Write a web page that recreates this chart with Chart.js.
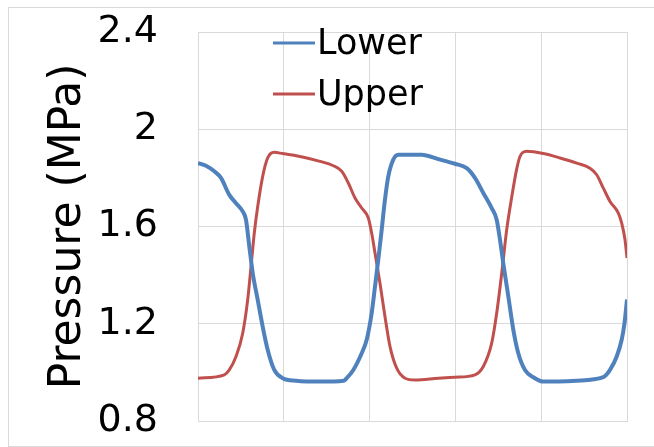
<!DOCTYPE html>
<html>
<head>
<meta charset="utf-8">
<script src="https://cdn.jsdelivr.net/npm/chart.js@4.4.1/dist/chart.umd.min.js"></script>
<style>
  body { margin: 0; background: #fff; }
  #wrap { width: 654px; height: 447px; position: relative; }
</style>
</head>
<body>
<div id="wrap"><canvas id="chart"></canvas></div>
<script>
// time (arbitrary units, 5 grid divisions) and pressure in MPa
const lowerX = [0, 0.093, 0.19, 0.268, 0.365, 0.443, 0.521, 0.559, 0.598, 0.638, 0.696, 0.754, 0.812, 0.889, 0.987, 1.142, 1.422, 1.70, 1.733, 1.81, 1.908, 1.966, 2.024, 2.063, 2.101, 2.141, 2.179, 2.218, 2.276, 2.334, 2.607, 2.801, 2.995, 3.132, 3.228, 3.325, 3.423, 3.481, 3.52, 3.558, 3.617, 3.675, 3.733, 3.811, 3.908, 4.024, 4.414, 4.724, 4.802, 4.88, 4.938, 4.97, 5.0];
const lowerY = [1.861, 1.85, 1.827, 1.80, 1.73, 1.696, 1.662, 1.628, 1.518, 1.408, 1.298, 1.188, 1.093, 1.010, 0.976, 0.966, 0.962, 0.966, 0.976, 1.010, 1.079, 1.134, 1.243, 1.353, 1.463, 1.587, 1.710, 1.806, 1.875, 1.895, 1.895, 1.877, 1.858, 1.840, 1.80, 1.738, 1.676, 1.628, 1.545, 1.449, 1.312, 1.175, 1.079, 1.010, 0.980, 0.962, 0.966, 0.980, 1.010, 1.065, 1.134, 1.20, 1.30];

const upperX = [0, 0.307, 0.365, 0.443, 0.521, 0.579, 0.618, 0.656, 0.696, 0.754, 0.812, 0.889, 0.987, 1.189, 1.422, 1.577, 1.675, 1.752, 1.83, 1.908, 1.985, 2.024, 2.063, 2.121, 2.179, 2.238, 2.316, 2.413, 2.529, 2.801, 2.995, 3.228, 3.325, 3.423, 3.481, 3.54, 3.598, 3.656, 3.713, 3.753, 3.831, 4.024, 4.219, 4.414, 4.569, 4.647, 4.724, 4.802, 4.899, 4.938, 4.977, 5.0];
const upperY = [0.976, 0.990, 1.010, 1.065, 1.161, 1.298, 1.435, 1.573, 1.682, 1.806, 1.882, 1.905, 1.900, 1.888, 1.868, 1.850, 1.827, 1.779, 1.717, 1.676, 1.635, 1.573, 1.491, 1.367, 1.230, 1.106, 1.017, 0.976, 0.969, 0.976, 0.980, 0.990, 1.024, 1.120, 1.243, 1.408, 1.587, 1.72, 1.834, 1.888, 1.909, 1.900, 1.882, 1.861, 1.840, 1.813, 1.758, 1.703, 1.655, 1.614, 1.545, 1.47];

const yTicks = [0.8, 1.2, 1.6, 2.0, 2.4];

function toPoints(xs, ys){
    return xs.map((x, i) => ({x: x, y: ys[i]}));
}

const frame = {
    id: 'frame',
    beforeDraw(chart){
        const ctx = chart.ctx;
        ctx.save();
        ctx.fillStyle = '#fff';
        ctx.fillRect(0, 0, chart.width, chart.height);
        ctx.strokeStyle = '#d9d9d9';
        ctx.lineWidth = 1;
        ctx.strokeRect(8.5, 7.5, chart.width, chart.height - 8);
        ctx.restore();
    }
};

const seriesLegend = {
    id: 'seriesLegend',
    afterDraw(chart){
        const ctx = chart.ctx;
        const area = chart.chartArea;
        ctx.save();
        ctx.font = '35px "DejaVu Sans"';
        ctx.textBaseline = 'middle';
        chart.data.datasets.forEach((ds, i) => {
            const y = area.top + 11 + i * 51;
            const x = area.left + 75;
            ctx.strokeStyle = ds.borderColor;
            ctx.lineWidth = 3;
            ctx.beginPath();
            ctx.moveTo(x, y);
            ctx.lineTo(x + 42, y);
            ctx.stroke();
            ctx.fillStyle = '#000';
            ctx.fillText(ds.label, x + 44, y + 2);
        });
        ctx.restore();
    }
};

new Chart(document.getElementById('chart'), {
    type: 'line',
    data: {
        datasets: [{
            label: 'Lower',
            data: toPoints(lowerX, lowerY),
            borderColor: '#4f81bd',
            borderWidth: 4,
            pointRadius: 0,
            cubicInterpolationMode: 'monotone'
        }, {
            label: 'Upper',
            data: toPoints(upperX, upperY),
            borderColor: '#c0504d',
            borderWidth: 3,
            pointRadius: 0,
            cubicInterpolationMode: 'monotone'
        }]
    },
    options: {
        responsive: true,
        maintainAspectRatio: false,
        animation: false,
        layout: { padding: { top: 32, right: 27, bottom: 26, left: 0 } },
        plugins: {
            legend: { display: false },
            tooltip: { enabled: false }
        },
        scales: {
            x: {
                type: 'linear',
                min: 0,
                max: 5,
                ticks: { display: false, stepSize: 1 },
                grid: { color: '#d9d9d9', drawTicks: false },
                border: { color: '#d9d9d9' },
                afterFit(scale){
                    scale.height = 0;
                    scale.paddingLeft = 0;
                    scale.paddingRight = 0;
                }
            },
            y: {
                min: yTicks[0],
                max: yTicks[yTicks.length - 1],
                afterBuildTicks(scale){
                    scale.ticks = yTicks.map(v => ({value: v}));
                },
                afterFit(scale){
                    scale.width = 198;
                    scale.paddingTop = 0;
                    scale.paddingBottom = 0;
                },
                ticks: {
                    color: '#000',
                    padding: 40,
                    font: { family: 'DejaVu Sans', size: 38 },
                    callback: v => String(v)
                },
                grid: { color: '#d9d9d9', drawTicks: false },
                border: { color: '#d9d9d9' },
                title: {
                    display: true,
                    text: 'Pressure (MPa)',
                    color: '#000',
                    font: { family: 'DejaVu Sans', size: 44 },
                    padding: { top: 42, bottom: 0 }
                }
            }
        }
    },
    plugins: [frame, seriesLegend]
});
</script>
</body>
</html>
